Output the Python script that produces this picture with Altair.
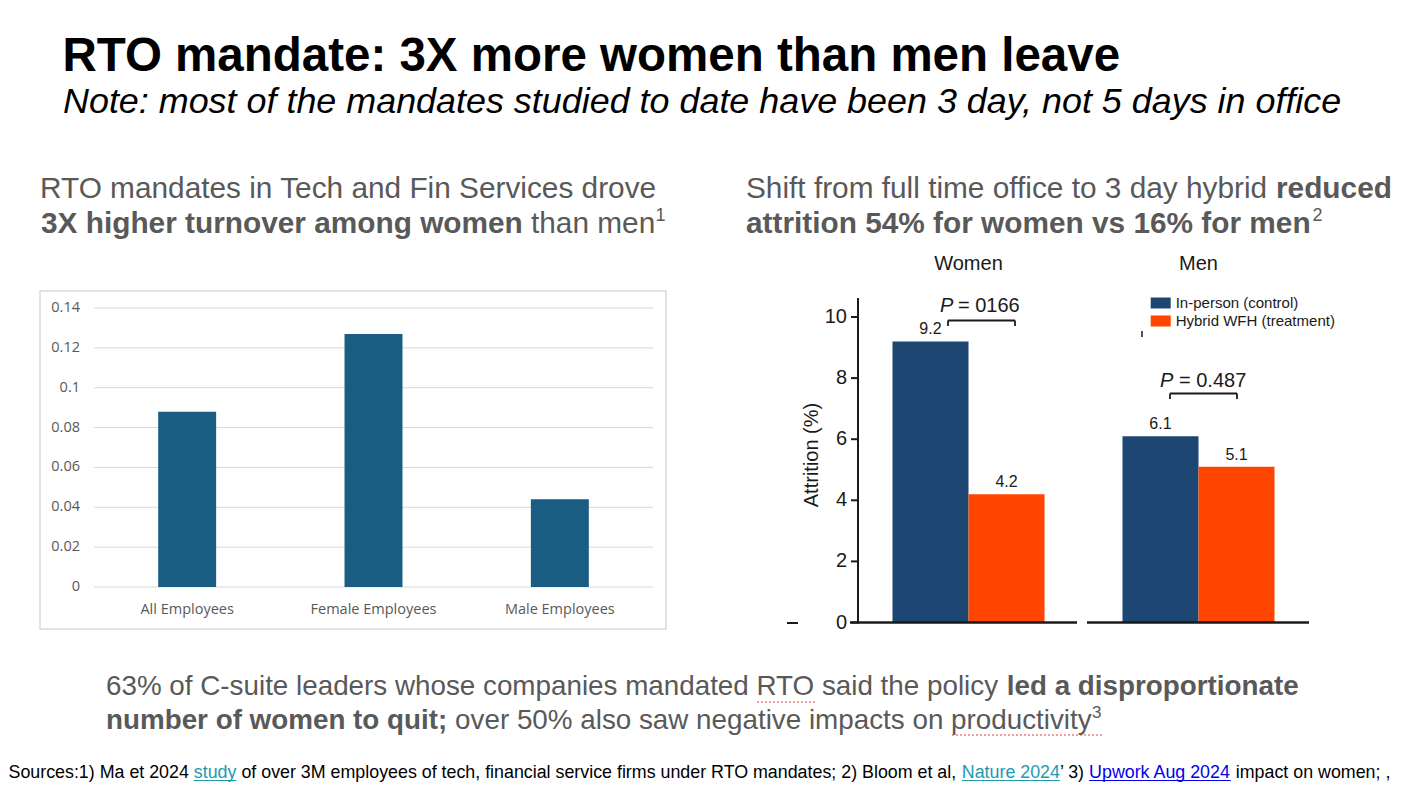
import altair as alt
import pandas as pd

# ---------------- data ----------------
left_categories = ["All Employees", "Female Employees", "Male Employees"]
left_values = [0.088, 0.127, 0.044]
left_ticks = [0, 0.02, 0.04, 0.06, 0.08, 0.10, 0.12, 0.14]
left_tick_labels = ["0", "0.02", "0.04", "0.06", "0.08", "0.1", "0.12", "0.14"]

right_groups = ["Women", "Men"]
right_series = ["In-person (control)", "Hybrid WFH (treatment)"]
right_women = [9.2, 4.2]
right_men = [6.1, 5.1]
right_ticks = [0, 2, 4, 6, 8, 10]
right_pvalues = ["= 0166", "= 0.487"]
right_axis_title = "Attrition (%)"

title_text = "RTO mandate: 3X more women than men leave"
subtitle_text = "Note: most of the mandates studied to date have been 3 day, not 5 days in office"
left_head = ["RTO mandates in Tech and Fin Services drove", "3X higher turnover among women", "than men", "1"]
right_head = ["Shift from full time office to 3 day hybrid", "reduced",
              "attrition 54% for women vs 16% for men", "2"]
bottom_text = ["63% of C-suite leaders whose companies mandated RTO said the policy",
               "led a disproportionate", "number of women to quit;",
               "over 50% also saw negative impacts on productivity", "3"]
sources = ["Sources:1) Ma et 2024", "study",
           "of over 3M employees of tech, financial service firms under RTO mandates; 2) Bloom et al,",
           "Nature 2024", "\u2019 3)", "Upwork Aug 2024", "impact on women; ,"]

# ---------------- styles ----------------
SANS = "Liberation Sans, Arial, Helvetica, sans-serif"
XL = "Open Sans, Lato, sans-serif"
GRAY = "#595959"
INK = "#1a1a1a"
BAR_L = "#195d82"
NAVY = "#1d4672"
ORANGE = "#ff4500"
TEAL = "#1c9ab0"
LINK = "#0000ee"
SPELL = "#e0403a"
O = 8  # page margin offset


def label(text, x, y, size, color, weight="normal", style="normal", align="left",
          baseline="alphabetic", font=SANS, angle=0):
    return alt.Chart(pd.DataFrame({"t": [text]})).mark_text(
        font=font, fontSize=size, fontWeight=weight, fontStyle=style, color=color,
        align=align, baseline=baseline, angle=angle
    ).encode(x=alt.value(x - O), y=alt.value(y - O), text="t:N")


def hline(x1, x2, y, color, w, dash=None):
    kw = {"color": color, "strokeWidth": w}
    if dash:
        kw["strokeDash"] = dash
    return alt.Chart(pd.DataFrame({"d": [0]})).mark_rule(**kw).encode(
        x=alt.value(x1 - O), x2=alt.value(x2 - O), y=alt.value(y - O))


def vline(x, y1, y2, color, w):
    return alt.Chart(pd.DataFrame({"d": [0]})).mark_rule(color=color, strokeWidth=w).encode(
        x=alt.value(x - O), y=alt.value(y1 - O), y2=alt.value(y2 - O))


# ---------------- text blocks ----------------
H = 29.8
S = 17.83
texts = [
    label(title_text, 62.5, 71, 47.5, "#000000", weight="bold"),
    label(subtitle_text, 63, 113, 35.9, "#000000", style="italic"),
    # left heading
    label(left_head[0], 40, 198, H, GRAY),
    label(left_head[1], 41, 233, H, GRAY, weight="bold"),
    label(left_head[2], 531, 233, H, GRAY),
    label(left_head[3], 655.5, 221, 18, GRAY),
    # right heading
    label(right_head[0], 746, 198, H, GRAY),
    label(right_head[1], 1276, 198, H, GRAY, weight="bold"),
    label(right_head[2], 746, 233, H, GRAY, weight="bold"),
    label(right_head[3], 1312.5, 221, 18, GRAY),
    # bottom statement
    label(bottom_text[0], 106, 695, 27.8, GRAY),
    label(bottom_text[1], 1006.8, 695, 27.8, GRAY, weight="bold"),
    label(bottom_text[2], 106, 729, 27.8, GRAY, weight="bold"),
    label(bottom_text[3], 455.1, 729, 27.8, GRAY),
    label(bottom_text[4], 1092, 718, 17, GRAY),
    hline(757, 815, 702, SPELL, 1.2, [2, 2]),
    hline(952, 1103, 735, SPELL, 1.2, [2, 2]),
    # sources
    label(sources[0], 8.5, 778, S, "#000000"),
    label(sources[1], 193.8, 778, S, TEAL),
    label(sources[2], 241.4, 778, S, "#000000"),
    label(sources[3], 961.8, 778, S, TEAL),
    label(sources[4], 1059.9, 778, S, "#000000"),
    label(sources[5], 1089.1, 778, S, LINK),
    label(sources[6], 1235.8, 778, S, "#000000"),
    hline(193.8, 236.4, 780.5, TEAL, 1),
    hline(961.8, 1059.9, 780.5, TEAL, 1),
    hline(1089.1, 1230.8, 780.5, LINK, 1),
]

# ---------------- left chart ----------------
left_df = pd.DataFrame({"category": left_categories, "value": left_values})
ltick_df = pd.DataFrame({"lv": left_ticks, "lab": left_tick_labels})
xsL = alt.Scale(domain=left_categories, range=[86, 645], paddingInner=0.689, paddingOuter=0.3445)
ysL = alt.Scale(domain=[0, 0.14], range=[579, 300])

box = alt.Chart(pd.DataFrame({"d": [0]})).mark_rect(
    fillOpacity=0, stroke="#d9d9d9", strokeWidth=1.5
).encode(x=alt.value(40 - O), x2=alt.value(666 - O), y=alt.value(291 - O), y2=alt.value(629 - O))

lgrid = alt.Chart(ltick_df).mark_rule(color="#d9d9d9", strokeWidth=1).encode(
    y=alt.Y("lv:Q", scale=ysL, axis=None), x=alt.value(86), x2=alt.value(645))
llabels = alt.Chart(ltick_df).mark_text(
    font=XL, fontSize=14.5, color=GRAY, align="right", baseline="middle"
).encode(y=alt.Y("lv:Q", scale=ysL, axis=None), x=alt.value(72), text="lab:N")
lbars = alt.Chart(left_df).mark_bar(color=BAR_L).encode(
    x=alt.X("category:N", scale=xsL, axis=None, sort=left_categories),
    y=alt.Y("value:Q", scale=ysL, axis=None))
lcats = alt.Chart(left_df).mark_text(
    font=XL, fontSize=14.5, color=GRAY, align="center", baseline="alphabetic"
).encode(x=alt.X("category:N", scale=xsL, axis=None, sort=left_categories),
         y=alt.value(614 - O), text="category:N")

left_chart = alt.layer(lgrid, llabels, lbars, lcats)

# ---------------- right chart ----------------
right_df = pd.DataFrame({
    "group": [right_groups[0]] * 2 + [right_groups[1]] * 2,
    "series": right_series * 2,
    "rval": right_women + right_men,
})
rtick_df = pd.DataFrame({"rv": right_ticks})
xsR = alt.Scale(domain=right_groups, range=[845.5, 1305.5], paddingInner=0.339, paddingOuter=0.1695)
ysR = alt.Scale(domain=[0, 10], range=[614.5, 309])
xoR = alt.Scale(domain=right_series, paddingInner=0, paddingOuter=0)
colR = alt.Scale(domain=right_series, range=[NAVY, ORANGE])

rbars = alt.Chart(right_df).mark_bar().encode(
    x=alt.X("group:N", scale=xsR, axis=None, sort=right_groups),
    xOffset=alt.XOffset("series:N", scale=xoR, sort=right_series),
    y=alt.Y("rval:Q", scale=ysR, axis=None),
    color=alt.Color("series:N", scale=colR, sort=right_series, legend=alt.Legend(
        orient="none", legendX=1142.7, legendY=285, title=None,
        symbolType="M-1,-0.55L1,-0.55L1,0.55L-1,0.55Z", symbolSize=400,
        symbolStrokeWidth=0, symbolOpacity=1, labelFont=SANS, labelFontSize=15,
        labelColor=INK, labelOffset=5, rowPadding=-1, padding=0)))
rvals = alt.Chart(right_df).mark_text(
    font=SANS, fontSize=16, color=INK, baseline="alphabetic", dy=-7
).encode(
    x=alt.X("group:N", scale=xsR, axis=None, sort=right_groups),
    xOffset=alt.XOffset("series:N", scale=xoR, sort=right_series),
    y=alt.Y("rval:Q", scale=ysR, axis=None),
    text=alt.Text("rval:Q", format=".1f"))
rgroups = alt.Chart(pd.DataFrame({"group": right_groups})).mark_text(
    font=SANS, fontSize=20, color=INK, baseline="alphabetic"
).encode(x=alt.X("group:N", scale=xsR, axis=None, sort=right_groups),
         y=alt.value(270 - O), text="group:N")
rticks = alt.Chart(rtick_df).mark_rule(color=INK, strokeWidth=2).encode(
    y=alt.Y("rv:Q", scale=ysR, axis=None), x=alt.value(851 - O), x2=alt.value(858 - O))
rticklabels = alt.Chart(rtick_df).mark_text(
    font=SANS, fontSize=20, color=INK, align="right", baseline="middle"
).encode(y=alt.Y("rv:Q", scale=ysR, axis=None), x=alt.value(847 - O), text="rv:Q")

right_chart = alt.layer(rbars, rvals, rgroups, rticks, rticklabels)

right_deco = [
    vline(858, 298, 623.5, INK, 2),
    hline(850, 1077, 622.5, INK, 2.5),
    hline(1087, 1309, 622.5, INK, 2.5),
    hline(787, 798, 623, INK, 2),
    vline(1142, 331, 337, INK, 1.5),
    label(right_axis_title, 812, 455, 20, INK, align="center", baseline="middle", angle=270),
    # p-value annotations
    label("P", 940, 312, 20, INK, style="italic"),
    label(right_pvalues[0], 958, 312, 20, INK),
    hline(948, 1015, 320.5, INK, 1.8),
    vline(948, 320.5, 326, INK, 1.8),
    vline(1015, 320.5, 326, INK, 1.8),
    label("P", 1160, 387, 20, INK, style="italic"),
    label(right_pvalues[1], 1179, 387, 20, INK),
    hline(1170, 1237, 393.5, INK, 1.8),
    vline(1170, 393.5, 399, INK, 1.8),
    vline(1237, 393.5, 399, INK, 1.8),
]

chart = alt.layer(
    box, left_chart, right_chart, *right_deco, *texts
).resolve_scale(
    x="independent", y="independent", color="independent"
).properties(
    width=1394, height=774, padding=0,
    autosize=alt.AutoSizeParams(type="none"),
).configure_view(stroke=None)

chart.save("out.html", embed_options={"renderer": "svg", "actions": False})
